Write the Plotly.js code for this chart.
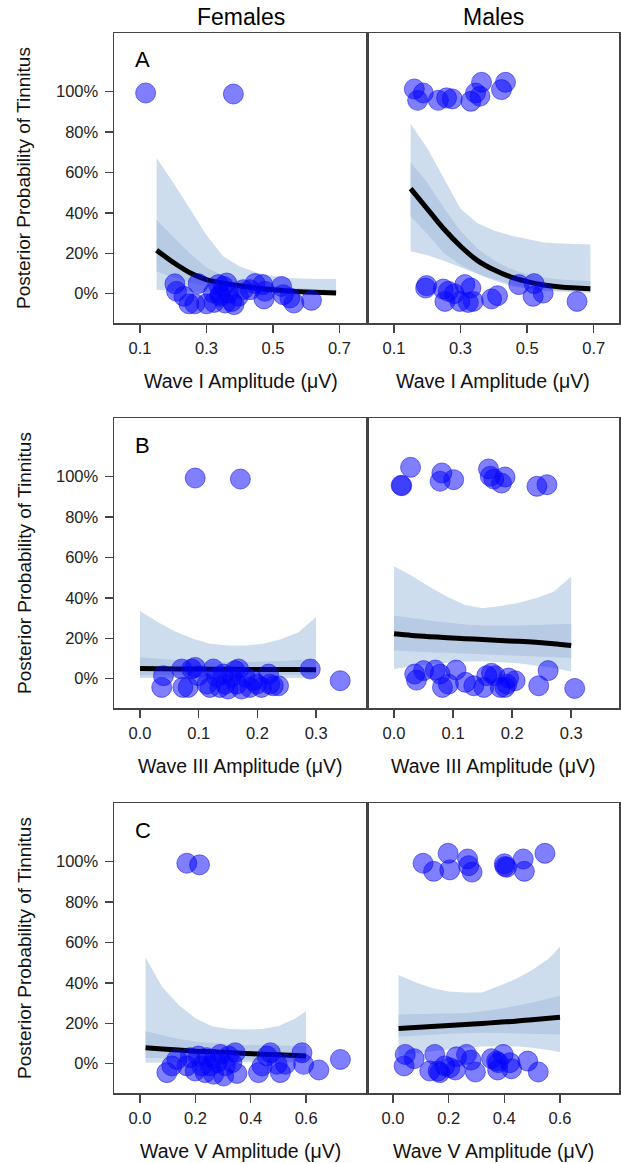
<!DOCTYPE html>
<html>
<head>
<meta charset="utf-8">
<script src="https://cdn.plot.ly/plotly-3.0.1.min.js"></script>
<style>html,body{margin:0;padding:0;background:#fff;}#chart{width:621px;height:1163px;}</style>
</head>
<body>
<div id="chart"></div>
<script>
// ---------- Panel A : Wave I ----------
const aFemX = [0.117,0.381,0.205,0.210,0.232,0.247,0.265,0.275,0.300,0.323,0.336,0.341,0.351,0.356,0.366,0.376,0.383,0.396,0.411,0.431,0.446,0.469,0.473,0.476,0.526,0.531,0.551,0.563,0.616,0.341,0.321,0.361];
const aFemY = [99.3,98.8,4.9,1.2,-1.3,-5.0,-5.0,5.0,-5.0,-4.3,4.5,-1.3,3.6,-4.6,0.3,-3.8,-5.4,-1.3,2.0,2.0,5.0,4.5,-2.6,1.2,3.6,-0.5,-2.1,-4.6,-3.3,-0.5,0.3,5.3];
const aMalX = [0.161,0.188,0.171,0.233,0.258,0.275,0.331,0.345,0.358,0.363,0.423,0.435,0.198,0.195,0.248,0.263,0.253,0.281,0.298,0.313,0.331,0.323,0.338,0.393,0.411,0.475,0.521,0.518,0.548,0.650];
const aMalY = [101.3,99.3,95.7,95.7,96.9,96.4,95.2,99.3,97.7,104.6,101.0,104.6,4.0,2.8,2.3,1.2,-3.8,0.0,-3.8,4.5,2.8,-4.3,-3.8,-2.6,-1.0,4.5,5.0,-1.3,0.3,-3.8];
const aGrid = [0.15,0.2,0.25,0.3,0.35,0.4,0.45,0.5,0.55,0.6,0.69];
const aFemMean = [21.5,15.5,10.4,7.0,5.2,3.9,2.8,1.9,1.2,0.8,0.3];
const aFemOutLo = [2.0,1.5,1.0,0.7,0.5,0.4,0.3,0.2,0.2,0.1,0.1];
const aFemOutHi = [67,55,42,29,18.5,13.5,10.5,8.8,7.8,7.4,7.3];
const aFemInLo = [11,8,5.5,3.8,2.7,1.8,1.2,0.8,0.5,0.4,0.2];
const aFemInHi = [36.6,28,20,13,9,6.5,5,3.8,3,2.5,1.8];
const aMalMean = [52,42,32,23.5,16.5,11.8,8.3,6,4.3,3.3,2.5];
const aMalOutLo = [21,19,16.3,13.2,9.8,6.5,4,2.3,1.3,0.8,0.3];
const aMalOutHi = [84,72,57,42,35,31.3,28.8,27,25.3,24.8,24.3];
const aMalInLo = [38.3,29.5,20,14.3,10,7.2,4.8,3,2.2,1.6,1.2];
const aMalInHi = [65,55,42.5,31,22.5,16.5,12.3,9.6,8,7,6.1];

// ---------- Panel B : Wave III ----------
const bFemX = [0.094,0.171,0.040,0.037,0.071,0.073,0.082,0.088,0.094,0.099,0.114,0.119,0.125,0.131,0.136,0.142,0.145,0.150,0.156,0.162,0.165,0.168,0.173,0.179,0.187,0.193,0.199,0.207,0.219,0.221,0.227,0.236,0.290,0.341];
const bFemY = [99.3,98.8,1.5,-4.3,4.8,-4.3,-4.3,4.8,5.6,1.5,-2.7,-4.3,4.8,0.7,-4.3,2.3,-2.7,-5.1,0.7,4.0,-2.7,4.8,-5.1,0.7,-4.3,-1.0,-2.7,-4.3,2.3,-2.7,-3.5,-3.5,4.8,-1.0];
const bMalX = [0.028,0.012,0.013,0.081,0.078,0.101,0.160,0.163,0.169,0.188,0.182,0.242,0.259,0.035,0.038,0.050,0.070,0.078,0.082,0.092,0.105,0.121,0.135,0.152,0.157,0.165,0.171,0.180,0.188,0.194,0.205,0.191,0.245,0.261,0.306];
const bMalY = [104.6,95.7,95.5,101.8,97.7,98.5,103.8,100.2,98.8,99.8,96.8,95.2,96.0,2.3,-0.7,4.0,4.3,2.3,-4.3,-2.7,4.3,-1.8,-3.5,-4.3,1.5,2.7,1.5,-4.3,-4.3,0.3,-1.0,-2.7,-3.5,4.0,-4.8];
const bGrid = [0,0.03,0.06,0.09,0.12,0.15,0.18,0.21,0.24,0.27,0.3];
const bFemMean = [5.0,4.9,4.8,4.8,4.7,4.7,4.6,4.6,4.5,4.5,4.4];
const bFemOutLo = [0.3,0.4,0.5,0.5,0.6,0.6,0.6,0.5,0.5,0.4,0.3];
const bFemOutHi = [33.5,28,23.3,19.8,17.3,16.4,16.4,17.3,19.5,23,30.5];
const bFemInLo = [1.6,1.8,2.0,2.1,2.2,2.2,2.2,2.1,2.0,1.8,1.6];
const bFemInHi = [10.6,9.8,9.2,8.8,8.5,8.3,8.3,8.4,8.7,9.2,9.8];
const bMalMean = [22.2,21.4,20.8,20.3,19.8,19.4,18.9,18.5,18.0,17.3,16.4];
const bMalOutLo = [4.8,6.0,7.1,7.8,8.5,8.6,8.2,7.6,6.6,5.3,3.6];
const bMalOutHi = [55.7,51,45.5,40.5,36.5,34.8,36,37.5,39.8,43,50.5];
const bMalInLo = [13.9,13.5,13.1,12.8,12.4,12.2,11.9,11.5,11.1,10.7,10.3];
const bMalInHi = [31.3,30,28.8,27.8,26.8,26.3,26.2,26.3,26.6,26.9,27.2];

// ---------- Panel C : Wave V ----------
const cFemX = [0.169,0.215,0.097,0.115,0.133,0.169,0.181,0.199,0.211,0.223,0.235,0.253,0.266,0.278,0.290,0.302,0.308,0.320,0.332,0.344,0.350,0.428,0.441,0.459,0.471,0.495,0.507,0.525,0.585,0.591,0.646,0.724,0.266,0.241];
const cFemY = [99.2,98.4,-4.4,-1.1,2.1,-1.1,3.0,-3.6,3.8,-1.1,-4.4,-1.1,-5.2,0.5,4.6,-6.1,-1.1,3.8,0.5,5.4,-4.8,-4.4,-1.1,3.8,5.4,-0.3,-4.4,-0.3,5.4,-0.3,-3.1,2.1,2.1,3.0];
const cMalX = [0.108,0.146,0.198,0.204,0.268,0.272,0.284,0.400,0.402,0.408,0.468,0.472,0.546,0.044,0.040,0.076,0.150,0.132,0.162,0.186,0.168,0.204,0.224,0.228,0.264,0.280,0.296,0.354,0.376,0.378,0.396,0.420,0.426,0.484,0.522,0.372];
const cMalY = [99.2,95.2,104.1,95.9,101.3,98.0,94.8,98.9,97.6,97.2,101.3,95.2,104.1,4.6,-1.1,2.5,4.6,-3.6,-3.6,-1.1,-4.4,-2.0,-3.1,3.4,4.6,1.8,-4.1,2.5,-3.1,0.5,4.6,0.5,-2.5,1.3,-4.1,1.3];
const cGrid = [0.02,0.08,0.14,0.2,0.26,0.32,0.38,0.44,0.5,0.56,0.6];
const cFemMean = [7.9,7.3,6.8,6.2,5.9,5.5,5.1,4.7,4.4,4.0,3.8];
const cFemOutLo = [0.5,0.6,0.7,0.8,0.8,0.8,0.8,0.8,0.7,0.6,0.5];
const cFemOutHi = [52.6,38,29,22.5,18.5,17.2,16.9,17.2,18.7,22.3,25.9];
const cFemInLo = [3.0,2.8,2.6,2.4,2.2,2.0,1.9,1.7,1.6,1.4,1.3];
const cFemInHi = [16.1,14,12.2,11,10.2,9.6,9.3,9.1,8.9,8.8,8.7];
const cMalMean = [17.4,17.9,18.4,18.9,19.4,19.9,20.5,21.0,21.8,22.5,23.0];
const cMalOutLo = [3.8,5.0,6.2,7.1,7.9,8.5,8.7,8.6,7.9,6.8,5.7];
const cMalOutHi = [43.9,40.3,37.4,35.7,35.2,35.2,38.5,41.8,46.4,52.1,57.9];
const cMalInLo = [13.3,13.8,14.3,14.8,15.2,15.3,15.2,15.0,14.8,14.6,14.4];
const cMalInHi = [24.3,24.5,24.7,24.9,25.1,25.8,27,28.5,30.3,32.3,33.6];

// ---------- Text ----------
const colTitles = ["Females","Males"];
const panelLetters = ["A","B","C"];
const xTitles = ["Wave I Amplitude (μV)","Wave III Amplitude (μV)","Wave V Amplitude (μV)"];
const yTitle = "Posterior Probability of Tinnitus";
const yTickVals = [0,20,40,60,80,100];
const yTickText = ["0%","20%","40%","60%","80%","100%"];
const aTicks = [0.1,0.3,0.5,0.7];
const aTickText = ["0.1","0.3","0.5","0.7"];
const bTicks = [0.0,0.1,0.2,0.3];
const bTickText = ["0.0","0.1","0.2","0.3"];
const cTicks = [0.0,0.2,0.4,0.6];
const cTickText = ["0.0","0.2","0.4","0.6"];

// ---------- Build ----------
const W = 621, H = 1163;
const FONT = "Liberation Sans, Arial, Helvetica, sans-serif";
const OUTER = "rgb(206,221,237)";
const INNER = "rgb(184,203,228)";

const panels = [
  {px:aFemX, py:aFemY, g:aGrid, m:aFemMean, ol:aFemOutLo, oh:aFemOutHi, il:aFemInLo, ih:aFemInHi},
  {px:aMalX, py:aMalY, g:aGrid, m:aMalMean, ol:aMalOutLo, oh:aMalOutHi, il:aMalInLo, ih:aMalInHi},
  {px:bFemX, py:bFemY, g:bGrid, m:bFemMean, ol:bFemOutLo, oh:bFemOutHi, il:bFemInLo, ih:bFemInHi},
  {px:bMalX, py:bMalY, g:bGrid, m:bMalMean, ol:bMalOutLo, oh:bMalOutHi, il:bMalInLo, ih:bMalInHi},
  {px:cFemX, py:cFemY, g:cGrid, m:cFemMean, ol:cFemOutLo, oh:cFemOutHi, il:cFemInLo, ih:cFemInHi},
  {px:cMalX, py:cMalY, g:cGrid, m:cMalMean, ol:cMalOutLo, oh:cMalOutHi, il:cMalInLo, ih:cMalInHi}
];

// pixel geometry of panels
const colPx = [[114,367],[367,619]];
const rowPx = [[33,323],[418,708],[803,1093]];
const xRanges = [[0.0218,0.783],[0.0189,0.776],[-0.0443,0.3867],[-0.0458,0.381],[-0.094,0.820],[-0.0934,0.812]];
const xTickSets = [[aTicks,aTickText],[aTicks,aTickText],[bTicks,bTickText],[bTicks,bTickText],[cTicks,cTickText],[cTicks,cTickText]];
const yRange = [-14.5,129];

const traces = [];
const layout = {
  width: W, height: H,
  margin: {l:0, r:0, t:0, b:0},
  paper_bgcolor: "#fff", plot_bgcolor: "#fff",
  showlegend: false,
  font: {family: FONT, color: "#111", size: 16},
  annotations: []
};

function band(g, lo, hi){
  return {x: g.concat(g.slice().reverse()), y: hi.concat(lo.slice().reverse())};
}

panels.forEach((p, i) => {
  const n = i + 1;
  const xa = n === 1 ? "x" : "x" + n;
  const ya = n === 1 ? "y" : "y" + n;
  const r = Math.floor(i / 2), c = i % 2;
  const ob = band(p.g, p.ol, p.oh), ib = band(p.g, p.il, p.ih);
  traces.push({type:"scatter", mode:"lines", x:ob.x, y:ob.y, fill:"toself", fillcolor:OUTER, line:{width:0, color:OUTER}, xaxis:xa, yaxis:ya, hoverinfo:"skip"});
  traces.push({type:"scatter", mode:"lines", x:ib.x, y:ib.y, fill:"toself", fillcolor:INNER, line:{width:0, color:INNER}, xaxis:xa, yaxis:ya, hoverinfo:"skip"});
  traces.push({type:"scatter", mode:"lines", x:p.g, y:p.m, line:{width:5, color:"#000", shape:"spline"}, xaxis:xa, yaxis:ya, hoverinfo:"skip"});
  traces.push({type:"scatter", mode:"markers", x:p.px, y:p.py, xaxis:xa, yaxis:ya,
    marker:{size:20, color:"rgba(0,0,255,0.5)", line:{width:1, color:"rgba(20,20,230,0.55)"}}, hoverinfo:"skip"});

  const xKey = n === 1 ? "xaxis" : "xaxis" + n;
  const yKey = n === 1 ? "yaxis" : "yaxis" + n;
  layout[xKey] = {
    domain: [colPx[c][0]/W, colPx[c][1]/W],
    anchor: ya, range: xRanges[i],
    tickmode: "array", tickvals: xTickSets[i][0], ticktext: xTickSets[i][1],
    ticks: "outside", ticklen: 8, tickwidth: 1.5, tickcolor: "#444",
    ticklabelstandoff: 2,
    showline: true, linecolor: "#444", linewidth: 1.5, mirror: true,
    showgrid: false, zeroline: false, fixedrange: true,
    tickfont: {family: FONT, size: 16.5, color: "#222"}
  };
  layout[yKey] = {
    domain: [1 - rowPx[r][1]/H, 1 - rowPx[r][0]/H],
    anchor: xa, range: yRange,
    tickmode: "array", tickvals: yTickVals, ticktext: yTickText,
    ticks: c === 0 ? "outside" : "", ticklen: 8, tickwidth: 1.5, tickcolor: "#444",
    ticklabelstandoff: 3,
    showticklabels: c === 0,
    showline: true, linecolor: "#444", linewidth: 1.5, mirror: true,
    showgrid: false, zeroline: false, fixedrange: true,
    tickfont: {family: FONT, size: 16.5, color: "#222"}
  };
  // x axis title
  layout.annotations.push({
    text: xTitles[r], xref: "paper", yref: "paper",
    x: (colPx[c][0] + colPx[c][1]) / 2 / W, y: 1 - (rowPx[r][1] + 58) / H,
    xanchor: "center", yanchor: "middle", showarrow: false,
    font: {family: FONT, size: 19.5, color: "#111"}
  });
});

// row annotations: letters and y titles
rowPx.forEach((rp, r) => {
  layout.annotations.push({
    text: panelLetters[r], xref: "paper", yref: "paper",
    x: 133 / W, y: 1 - (rp[0] + 27) / H, xanchor: "left", yanchor: "middle",
    showarrow: false, font: {family: FONT, size: 22, color: "#000"}
  });
  layout.annotations.push({
    text: yTitle, xref: "paper", yref: "paper", textangle: -90,
    x: 24 / W, y: 1 - (rp[0] + rp[1]) / 2 / H, xanchor: "center", yanchor: "middle",
    showarrow: false, font: {family: FONT, size: 19, color: "#111"}
  });
});
// column titles
colTitles.forEach((t, c) => {
  layout.annotations.push({
    text: t, xref: "paper", yref: "paper",
    x: (colPx[c][0] + colPx[c][1]) / 2 / W, y: 1 - 17 / H, xanchor: "center", yanchor: "middle",
    showarrow: false, font: {family: FONT, size: 23, color: "#000"}
  });
});

Plotly.newPlot("chart", traces, layout, {staticPlot: true, displayModeBar: false});
</script>
</body>
</html>
